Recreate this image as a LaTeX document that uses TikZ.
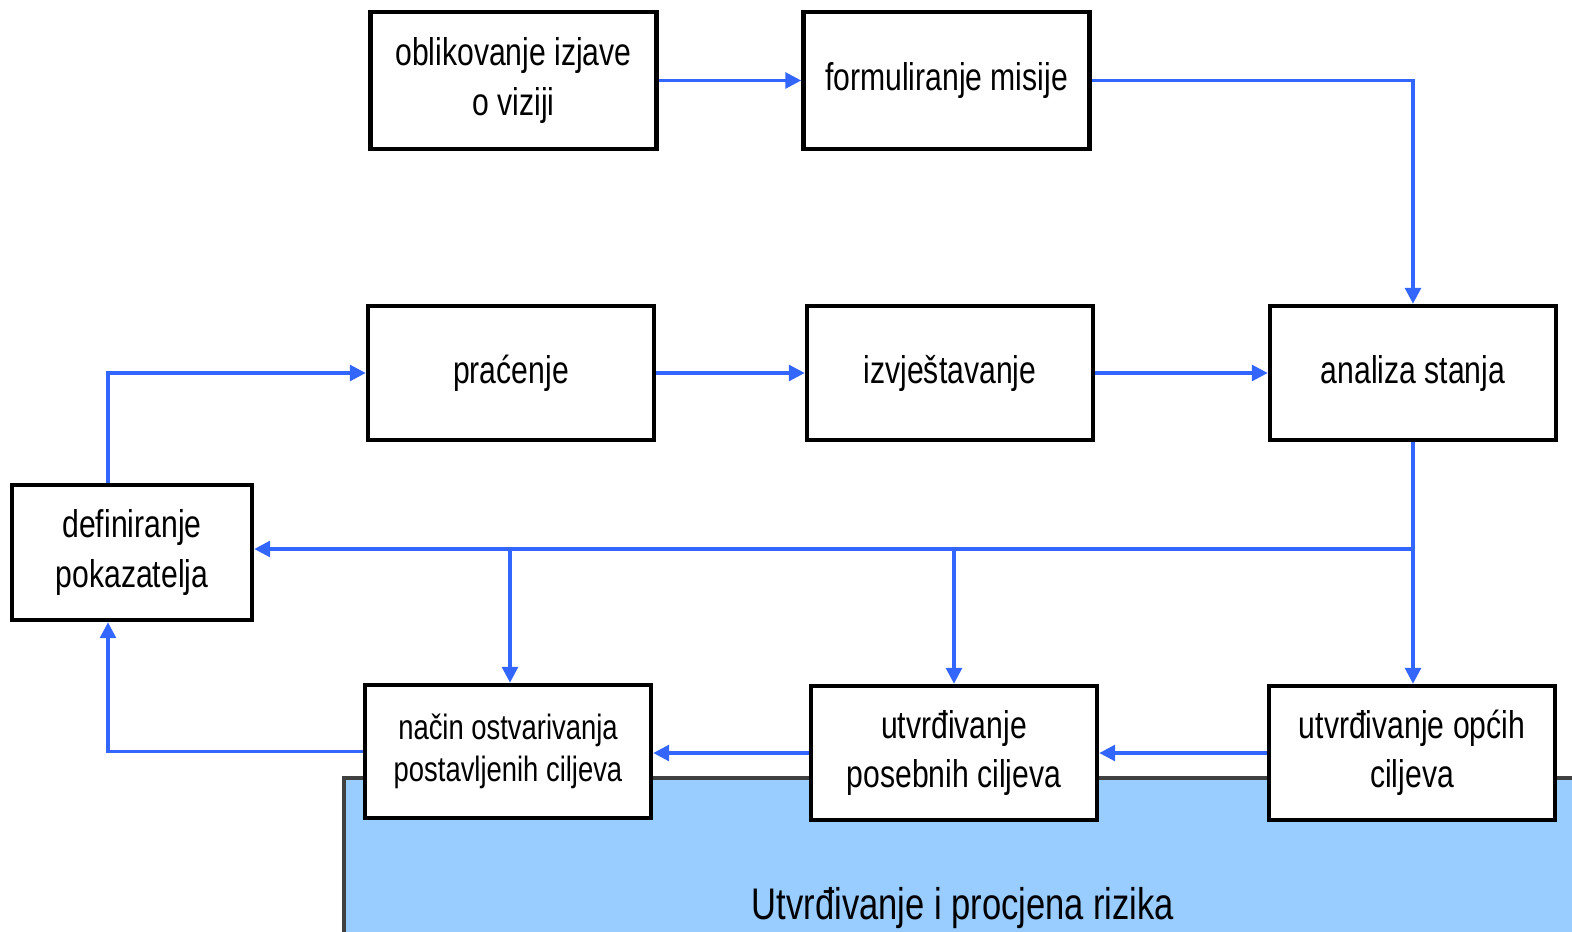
\documentclass[tikz,border=0pt]{standalone}
\usepackage{fontspec}
\setmainfont{Liberation Sans}[FakeStretch=0.78]
\usetikzlibrary{positioning}
\usetikzlibrary{arrows.meta}
\definecolor{tok}{RGB}{51,102,255}
\definecolor{rizikplava}{RGB}{153,204,255}
\tikzset{
	korak/.style={draw=black,line width=1.3pt,fill=white,minimum width=2.86cm,minimum height=1.34cm,align=center,inner sep=2pt,font=\fontsize{11}{14}\selectfont},
	veza/.style={draw=tok,line width=0.9pt,-{Triangle[width=4.5pt,length=4.5pt]}},
	crta/.style={draw=tok,line width=0.9pt}
}
\begin{document}
\begin{tikzpicture}
	\useasboundingbox (0,0) rectangle (15.72,-9.32);
	%% podloga za rizik
	\draw[fill=rizikplava,draw=black!75,line width=1pt] (3.44,-7.78) rectangle (15.9,-9.6);
	\node (rizik) at (9.63,-9.08) {\fontsize{12.6}{15}\selectfont Utvrđivanje i procjena rizika};
	%% gornji red
	\node[korak,minimum height=1.37cm] (vizija) at (5.135,-0.805) {oblikovanje izjave\\o viziji};
	\node[korak,minimum height=1.37cm] (misija) at (9.465,-0.805) {formuliranje misije};
	%% srednji red
	\node[korak] (pracenje) at (5.11,-3.73) {praćenje};
	\node[korak] (izvjest) at (9.50,-3.73) {izvještavanje};
	\node[korak] (analiza) at (14.13,-3.73) {analiza stanja};
	\node[korak,minimum width=2.40cm,minimum height=1.35cm] (pokaz) at (1.32,-5.525) {definiranje\\pokazatelja};
	%% donji red
	\node[korak,minimum height=1.33cm,font=\fontsize{10}{12}\selectfont] (nacin) at (5.08,-7.515) {način ostvarivanja\\postavljenih ciljeva};
	\node[korak] (posebni) at (9.54,-7.53) {utvrđivanje\\posebnih ciljeva};
	\node[korak] (opci) at (14.12,-7.53) {utvrđivanje općih\\ciljeva};
	\coordinate (grana) at (14.13,-5.49);
	% veze
	\draw[veza] (vizija) -- (misija);
	\draw[veza] (misija.east) -| (analiza.north);
	\draw[veza] (pracenje) -- (izvjest);
	\draw[veza] (izvjest) -- (analiza);
	\draw[veza] (analiza.south) -- (analiza.south |- opci.north);
	\draw[veza] (grana) -- (grana -| pokaz.east);
	\draw[veza] ([xshift=0.02cm]grana -| nacin.north) -- ([xshift=0.02cm]nacin.north);
	\draw[veza] (grana -| posebni.north) -- (posebni.north);
	\draw[veza] (opci.west) -- (posebni.east);
	\draw[veza] (posebni.west) -- (posebni.west -| nacin.east);
	\draw[veza] (nacin.west) -| ([xshift=-0.24cm]pokaz.south);
	\draw[veza] ([xshift=-0.24cm]pokaz.north) |- (pracenje.west);
\end{tikzpicture}
\end{document}
